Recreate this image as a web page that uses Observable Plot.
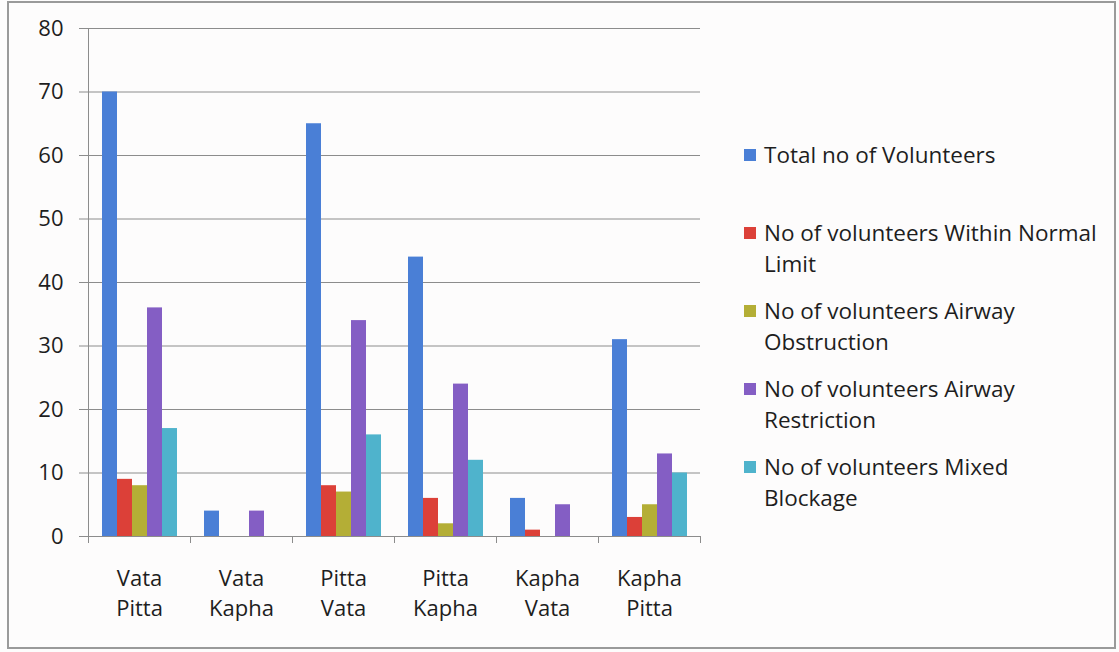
<!DOCTYPE html>
<html>
<head>
<meta charset="utf-8">
<script src="https://cdn.jsdelivr.net/npm/d3@7"></script>
<script src="https://cdn.jsdelivr.net/npm/@observablehq/plot@0.6"></script>
<style>
  html, body { margin: 0; padding: 0; background: #fff; }
  #wrap { position: relative; width: 1119px; height: 652px; background: #fdfcfc; overflow: hidden;
          font-family: "Open Sans", sans-serif; color: #1e1e1e; }
  #border { position: absolute; left: 7px; top: 1px; width: 1109px; height: 648px; box-sizing: border-box;
            border: 2px solid #9a9a9a; }
  #chart { position: absolute; left: 0; top: 0; }
  #legend { position: absolute; left: 0; top: 0; }
  .item { position: absolute; left: 744px; width: 370px; font-size: 22.5px; line-height: 31px; white-space: nowrap; }
  .sw { position: absolute; left: 0; top: 10px; width: 12px; height: 12px; }
  .txt { position: absolute; left: 20px; top: 0; }
</style>
</head>
<body>
<div id="wrap">
  <div id="border"></div>
  <div id="chart"></div>
  <div id="legend"></div>
</div>
<script>
const categories = ["Vata Pitta", "Vata Kapha", "Pitta Vata", "Pitta Kapha", "Kapha Vata", "Kapha Pitta"];
const series = [
  "Total no of Volunteers",
  "No of volunteers Within Normal Limit",
  "No of volunteers Airway Obstruction",
  "No of volunteers Airway Restriction",
  "No of volunteers Mixed Blockage"
];
// legend labels as wrapped in the reference
const legendLines = [
  ["Total no of Volunteers"],
  ["No of volunteers Within Normal", "Limit"],
  ["No of volunteers Airway", "Obstruction"],
  ["No of volunteers Airway", "Restriction"],
  ["No of volunteers Mixed", "Blockage"]
];
const totalVolunteers   = [70, 4, 65, 44, 6, 31];
const withinNormal      = [9, 0, 8, 6, 1, 3];
const airwayObstruction = [8, 0, 7, 2, 0, 5];
const airwayRestriction = [36, 4, 34, 24, 5, 13];
const mixedBlockage     = [17, 0, 16, 12, 0, 10];
const colors = ["#4a7fd6", "#dc4038", "#b4ae36", "#845ec4", "#4fb3cc"];
const yTicks = [0, 10, 20, 30, 40, 50, 60, 70, 80];

const seriesValues = [totalVolunteers, withinNormal, airwayObstruction, airwayRestriction, mixedBlockage];
const rows = categories.flatMap((c, i) => series.map((s, j) => ({category: c, series: s, value: seriesValues[j][i]})));

const chart = Plot.plot({
  width: 710,
  height: 640,
  marginLeft: 88,
  marginRight: 10,
  marginTop: 28,
  marginBottom: 104,
  style: {background: "transparent", fontFamily: "'Open Sans', sans-serif", fontSize: "22px", color: "#1e1e1e"},
  fx: {domain: categories, padding: 0},
  x: {domain: series, paddingInner: 0, paddingOuter: 0.73, axis: null},
  y: {domain: [0, 80]},
  color: {domain: series, range: colors},
  marks: [
    Plot.gridY(yTicks, {stroke: "#8c8c8c", strokeOpacity: 1}),
    Plot.barY(rows, {fx: "category", x: "series", y: "value", fill: "series"}),
    Plot.ruleY([0], {stroke: "#8c8c8c"}),
    Plot.axisY(yTicks, {tickSize: 9, tickPadding: 16, stroke: "#8c8c8c", fill: "#1e1e1e", fontSize: 22, label: null}),
    Plot.axisFx({anchor: "bottom", tickSize: 0, tickPadding: 28, label: null, fontSize: 22, fill: "#1e1e1e",
                 lineHeight: 1.36, tickFormat: d => d.replace(" ", "\n")})
  ]
});
document.getElementById("chart").appendChild(chart);

// axis line on the left and category boundary ticks on the x axis, placed with the chart's own scales
const fx = chart.scale("fx");
const y = chart.scale("y");
const svg = d3.select(chart);
const x0 = fx.apply(categories[0]);
const bounds = categories.map(c => fx.apply(c)).concat([fx.apply(categories[categories.length - 1]) + fx.bandwidth]);
const g = svg.append("g").attr("stroke", "#8c8c8c").attr("shape-rendering", "crispEdges");
g.append("line").attr("x1", x0).attr("x2", x0).attr("y1", y.apply(80)).attr("y2", y.apply(0));
bounds.forEach(b => g.append("line").attr("x1", b).attr("x2", b).attr("y1", y.apply(0)).attr("y2", y.apply(0) + 7));

// legend
const legend = document.getElementById("legend");
series.forEach((s, i) => {
  const item = document.createElement("div");
  item.className = "item";
  item.style.top = (139 + i * 78) + "px";
  item.innerHTML = `<div class="sw" style="background:${colors[i]}"></div><div class="txt">${legendLines[i].join("<br>")}</div>`;
  legend.appendChild(item);
});
</script>
</body>
</html>
